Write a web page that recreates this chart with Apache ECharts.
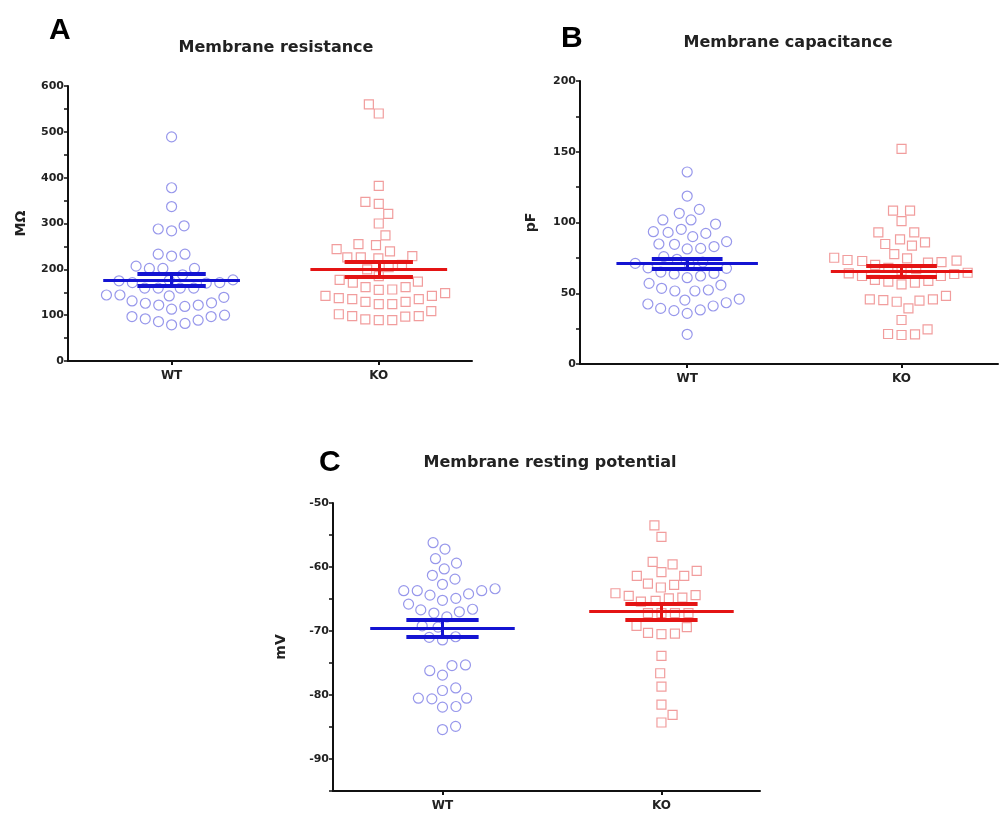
<!DOCTYPE html>
<html>
	<head>
		<meta charset="utf-8">
		<title>Membrane properties</title>
		<script src="https://cdn.jsdelivr.net/npm/echarts@6/dist/echarts.min.js"></script>
		<style>
			body { margin: 0; background: #fff; }
			#main { width: 1001px; height: 816px; }
		</style>
	</head>
	<body>
		<div id="main"></div>
		<script>
			// groups on the x axis
			var groups = ['WT', 'KO'];

			// A. membrane resistance (MΩ)
			var resWT = [489, 378, 337, 288, 284, 295, 233, 233, 229, 207, 202, 202, 202, 188, 177, 175, 171, 170, 176, 171,
				159, 159, 159, 159, 144, 139, 127, 122, 119, 113, 122, 126, 131, 142, 144, 97, 92, 86, 79, 82, 89, 97, 100];
			var resKO = [540, 560, 382, 347, 343, 321, 300, 274, 255, 244, 253, 239, 226, 229, 224, 226, 210, 205, 200, 185,
				173, 177, 171, 161, 156, 161, 148, 142, 135, 129, 124, 124, 129, 135, 137, 142, 155, 102, 97, 91, 89, 89, 98, 98, 109];

			// B. membrane capacitance (pF)
			var capWT = [135.7, 118.7, 109.3, 106.5, 101.8, 98.9, 101.8, 95.2, 93, 90, 92.3, 93.5, 84.6, 81.7, 86.5, 83, 84.8, 81.3,
				70.4, 71.1, 75.9, 68, 72, 74, 61, 65, 63.6, 62.2, 64, 67.6, 55.8, 52.3, 51.6, 51.6, 53.5, 57,
				45.2, 42.4, 39.3, 37.7, 35.8, 38.2, 41, 43.3, 45.9, 21];
			var capKO = [152, 108.4, 108.4, 101, 93, 88.1, 84.8, 83.6, 86, 93, 77.7, 74.7, 73, 71.6, 72, 72.8, 73.5, 75.1,
				70, 68, 67, 66, 64.5, 63.6, 62.2, 62.2, 64, 58.7, 57.5, 56.3, 58.2, 59.4, 45.7, 44.8, 44, 45.2, 45.7, 48.1,
				39.3, 31.1, 21.2, 20.5, 21, 24.5];

			// C. resting potential (mV)
			var rmpWT = [-56.2, -57.2, -58.7, -59.4, -60.3, -61.3, -61.9, -62.7, -63.7, -63.7, -63.7, -63.4, -64.4, -64.2,
				-65.2, -64.9, -65.8, -66.7, -66.6, -67, -67.2, -67.8, -69.2, -69.4, -70.9, -71.4, -71, -75.3, -75.4, -76.2,
				-76.9, -79.3, -78.9, -80.5, -80.6, -80.5, -81.8, -81.9, -85.4, -84.9];
			var rmpKO = [-53.5, -55.3, -59.6, -59.2, -60.6, -61.4, -61.4, -60.8, -62.6, -62.8, -63.2, -64.1, -64.5, -64.4,
				-64.8, -64.9, -65.4, -65.3, -67.2, -67.2, -67.2, -67.2, -69.2, -69.4, -70.3, -70.5, -70.4, -73.9, -76.6,
				-78.7, -81.5, -83.1, -84.3];

			var FONT = "'DejaVu Sans', Verdana, sans-serif";
			var LETTER_FONT = "'Liberation Sans', Arial, sans-serif";
			var XMIN = 0.5, XMAX = 2.45;

			var panels = [
				{ letter: 'A', title: 'Membrane resistance', unit: 'MΩ', wt: resWT, ko: resKO,
					left: 68, top: 86, width: 404, height: 275, min: 0, max: 600, step: 50, lab: 100, nameGap: 40,
					lx: 44, ly: 11, ty: 40 },
				{ letter: 'B', title: 'Membrane capacitance', unit: 'pF', wt: capWT, ko: capKO,
					left: 580, top: 81, width: 418, height: 283, min: 0, max: 200, step: 25, lab: 50, nameGap: 42,
					lx: 556, ly: 19, ty: 35 },
				{ letter: 'C', title: 'Membrane resting potential', unit: 'mV', wt: rmpWT, ko: rmpKO,
					left: 333, top: 503, width: 427, height: 288, min: -95, max: -50, step: 5, lab: 10, nameGap: 45,
					lx: 314, ly: 443, ty: 455 }
			];

			function mean(a) {
				return a.reduce(function(s, v) { return s + v }, 0) / a.length
			}

			function sem(a) {
				var m = mean(a);
				var ss = a.reduce(function(s, v) { return s + (v - m) * (v - m) }, 0);
				return Math.sqrt(ss / (a.length - 1)) / Math.sqrt(a.length)
			}

			// simple beeswarm: each point goes to the x offset nearest the centre that does not overlap
			function swarm(vals, pxY, d) {
				var order = vals.map(function(v, i) { return i }).sort(function(a, b) { return vals[a] - vals[b] });
				var placed = [];
				var xs = [];
				order.forEach(function(i, k) {
					var y = vals[i] * pxY;
					var near = placed.filter(function(p) { return Math.abs(p.y - y) < d });
					var cands = [0];
					near.forEach(function(p) {
						var dx = Math.sqrt(d * d - (p.y - y) * (p.y - y));
						cands.push(p.x + dx, p.x - dx);
					});
					var side = k % 2 ? 1 : -1;
					cands.sort(function(a, b) {
						var da = Math.abs(a) - Math.abs(b);
						if (Math.abs(da) > 0.5) return da;
						return side * (b - a)
					});
					var x = cands.find(function(c) {
						return near.every(function(p) { return (p.x - c) * (p.x - c) + (p.y - y) * (p.y - y) >= d * d - 0.01 })
					});
					placed.push({ x: x, y: y });
					xs[i] = x;
				});
				return xs
			}

			var option = {
				backgroundColor: '#fff',
				animation: false,
				title: [],
				grid: [],
				xAxis: [],
				yAxis: [],
				series: []
			};

			var styles = [
				{ symbol: 'circle', size: 10, point: '#7d7de6', line: '#1414d2' },
				{ symbol: 'rect', size: 9, point: '#ee8585', line: '#e41414' }
			];

			panels.forEach(function(p, gi) {
				option.grid.push({ left: p.left, top: p.top, width: p.width, height: p.height });
				option.title.push({
					text: p.letter, left: p.lx, top: p.ly,
					textStyle: { fontFamily: LETTER_FONT, fontSize: 30, fontWeight: 'bold', color: '#000' }
				});
				option.title.push({
					text: p.title, left: p.left + (p.letter == 'C' ? 217 : 208), top: p.ty,
					textAlign: 'center', padding: 0,
					textStyle: { fontFamily: FONT, fontSize: 16, fontWeight: 'bold', color: '#222' }
				});
				option.xAxis.push({
					type: 'value', gridIndex: gi, min: XMIN, max: XMAX,
					axisLine: { show: true, lineStyle: { color: '#111', width: 2 } },
					splitLine: { show: false },
					axisTick: { show: true, customValues: [1, 2], length: 4, lineStyle: { color: '#111', width: 2 } },
					axisLabel: {
						customValues: [1, 2], margin: 9,
						formatter: function(v) { return groups[Math.round(v) - 1] },
						fontFamily: FONT, fontSize: 12, fontWeight: 'bold', color: '#222'
					}
				});
				option.yAxis.push({
					type: 'value', gridIndex: gi, min: p.min, max: p.max, interval: p.step,
					name: p.unit, nameLocation: 'middle', nameGap: p.nameGap, nameRotate: 90,
					nameTextStyle: { fontFamily: FONT, fontSize: 14, fontWeight: 'bold', color: '#222' },
					axisLine: { show: true, lineStyle: { color: '#111', width: 2 } },
					splitLine: { show: false },
					axisTick: { show: true, length: 4, lineStyle: { color: '#111', width: 1.5 } },
					axisLabel: {
						margin: 4, fontFamily: FONT, fontSize: 11, fontWeight: 'bold', color: '#222',
						formatter: function(v) { return v % p.lab === 0 ? String(v) : '' }
					}
				});

				var pxY = p.height / (p.max - p.min);
				var pxX = p.width / (XMAX - XMIN);
				[p.wt, p.ko].forEach(function(vals, k) {
					var st = styles[k];
					var cx = k + 1;
					var offs = swarm(vals, pxY, 13.5);
					option.series.push({
						type: 'scatter', xAxisIndex: gi, yAxisIndex: gi, z: 2,
						symbol: st.symbol, symbolSize: st.size,
						itemStyle: { color: 'rgba(255,255,255,0)', borderColor: st.point, borderWidth: 1.2 },
						data: vals.map(function(v, i) { return [cx + offs[i] / pxX, v] })
					});
					var m = mean(vals), e = sem(vals);
					var hw = 0.33, sw = 0.165;
					option.series.push({
						type: 'lines', coordinateSystem: 'cartesian2d', xAxisIndex: gi, yAxisIndex: gi, z: 5,
						lineStyle: { color: st.line, opacity: 1 },
						data: [
							{ coords: [[cx - hw, m], [cx + hw, m]], lineStyle: { width: 3 } },
							{ coords: [[cx - sw, m + e], [cx + sw, m + e]], lineStyle: { width: 4 } },
							{ coords: [[cx - sw, m - e], [cx + sw, m - e]], lineStyle: { width: 4 } },
							{ coords: [[cx, m - e], [cx, m + e]], lineStyle: { width: 3 } }
						]
					});
				});
			});

			var myChart = echarts.init(document.getElementById('main'));
			myChart.setOption(option);
		</script>
	</body>
</html>
